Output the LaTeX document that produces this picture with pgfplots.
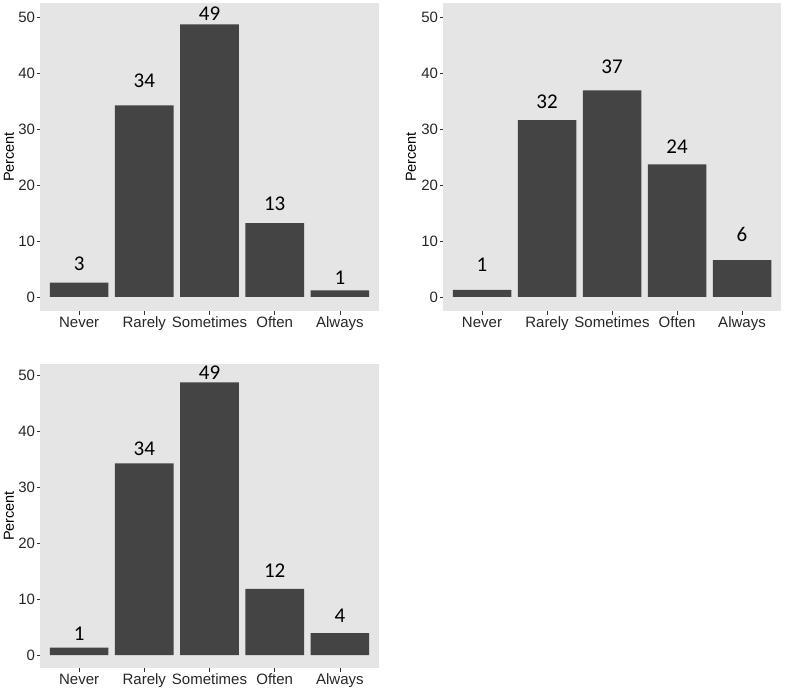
\documentclass[border=0pt]{standalone}
\usepackage{pgfplots}
\pgfplotsset{compat=1.18}
\usepackage{fontspec}
\setmainfont{Liberation Sans}
\newfontfamily\labfont{Carlito}
\definecolor{bgc}{HTML}{E5E5E5}
\definecolor{barc}{HTML}{444444}
\definecolor{tkc}{HTML}{333333}

\pgfplotsset{panel/.style={
  scale only axis, width=339pt, height=308pt,
  xmin=0.4, xmax=5.6, ymin=-2.5, ymax=52.5,
  axis background/.style={fill=bgc},
  axis line style={draw=none},
  xtick={1,2,3,4,5}, xticklabels={Never,Rarely,Sometimes,Often,Always},
  ytick={0,10,20,30,40,50},
  tick align=outside, major tick length=3.5pt, tick style={color=tkc, line width=0.6pt},
  xtick pos=left, ytick pos=left,
  ticklabel style={font=\fontsize{15}{18}\selectfont, text=black!85},
  yticklabel style={xshift=2pt},
  xticklabel style={yshift=1pt},
  /pgf/number format/assume math mode=true,
  ylabel={Percent}, ylabel style={font=\fontsize{14.5}{17}\selectfont, text=black, at={(axis description cs:-0.0915,0.5)}, anchor=center},
  clip=false,
}, barst/.style={ybar, bar width=0.9, bar shift=0pt, fill=barc, draw=none},
labst/.style={draw=none, mark=none, nodes near coords, point meta=explicit symbolic,
  nodes near coords align={center},
  nodes near coords style={font=\labfont\fontsize{21}{24}\selectfont, anchor=center, inner sep=0pt, text=black}}
}

\begin{document}
\begin{tikzpicture}
\path[use as bounding box] (0,0) rectangle (787pt,689pt);

% Panel 1 (top left)
\begin{axis}[panel, at={(40pt,378pt)}, anchor=south west]
\addplot[barst] coordinates {(1,2.55) (2,34.2) (3,48.7) (4,13.2) (5,1.2)};
\addplot[labst] table[meta=l] {
x y l
1 5.95 3
2 38.6 34
3 50.6 49
4 16.7 13
5 3.4 1
};
\end{axis}

% Panel 2 (top right)
\begin{axis}[panel, width=338pt, at={(443pt,378pt)}, anchor=south west,
  ylabel style={at={(axis description cs:-0.0947,0.5)}}]
\addplot[barst] coordinates {(1,1.25) (2,31.6) (3,36.9) (4,23.7) (5,6.6)};
\addplot[labst] table[meta=l] {
x y l
1 5.8 1
2 34.8 32
3 41.1 37
4 26.8 24
5 11.2 6
};
\end{axis}

% Panel 3 (bottom left)
\begin{axis}[panel, height=304pt, ymin=-2.32, ymax=51.96, at={(40pt,21pt)}, anchor=south west]
\addplot[barst] coordinates {(1,1.3) (2,34.2) (3,48.7) (4,11.8) (5,3.9)};
\addplot[labst] table[meta=l] {
x y l
1 3.85 1
2 36.9 34
3 50.4 49
4 15.1 12
5 6.96 4
};
\end{axis}
\end{tikzpicture}
\end{document}
